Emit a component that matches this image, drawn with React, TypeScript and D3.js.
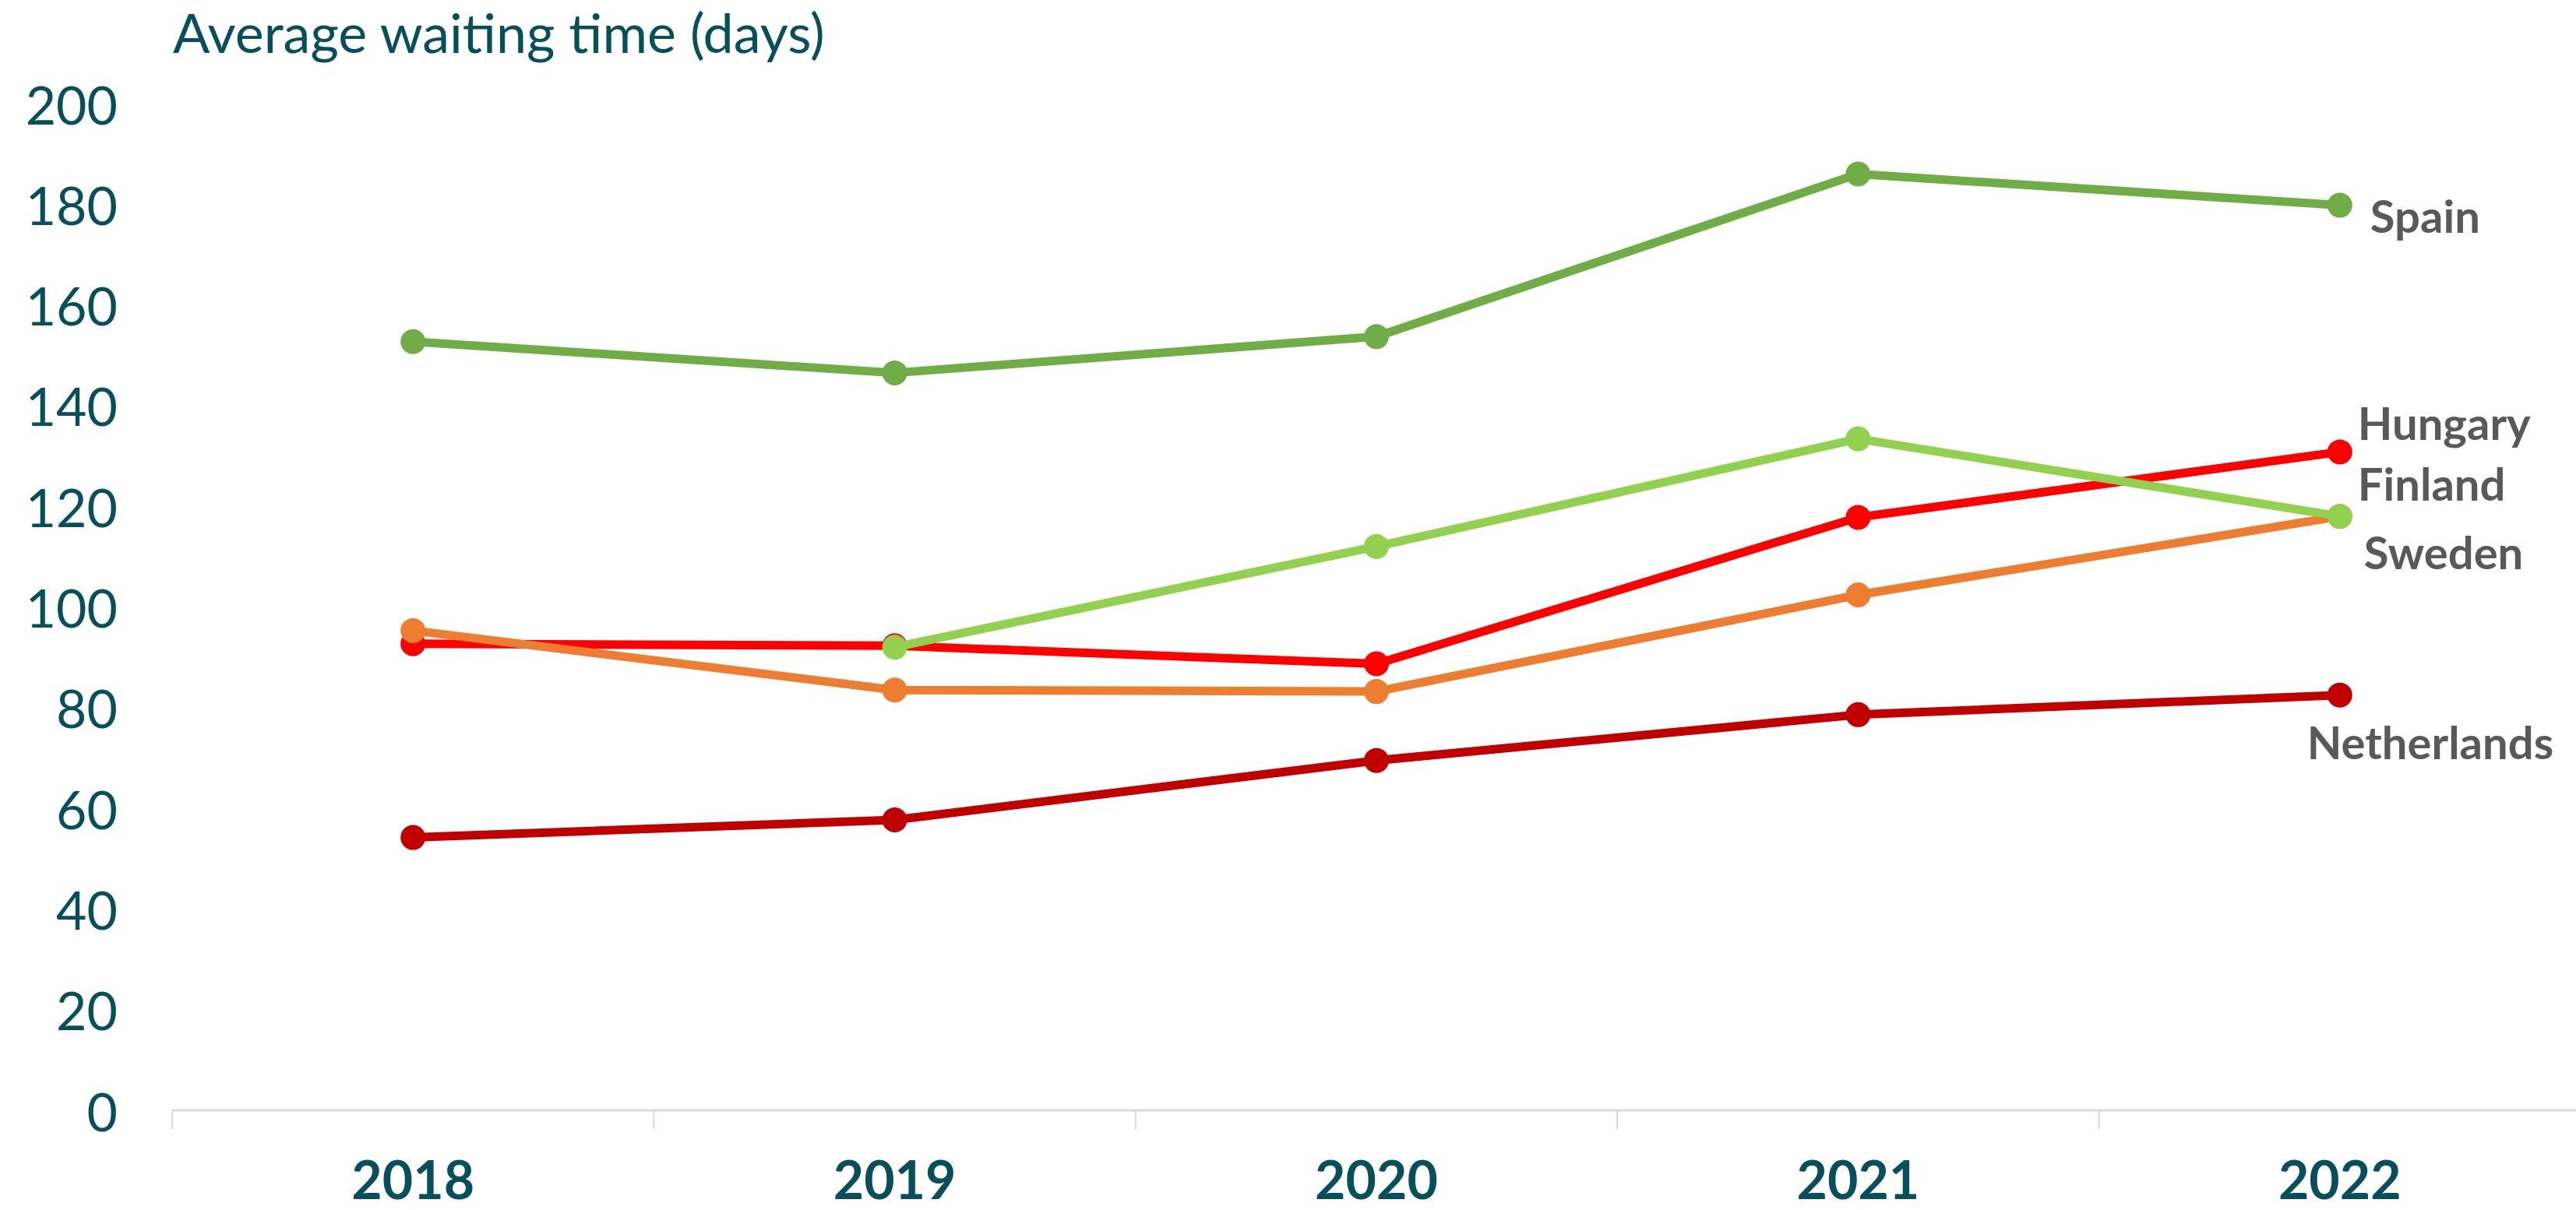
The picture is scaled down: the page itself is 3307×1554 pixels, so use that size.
import React from "react";
import * as d3 from "d3";

const years = ["2018", "2019", "2020", "2021", "2022"];
const yTicks = [0, 20, 40, 60, 80, 100, 120, 140, 160, 180, 200];

const spain = [152.7, 146.5, 153.7, 186.0, 179.8];
const finland: (number | null)[] = [null, 92.0, 112.0, 133.4, 118.0];
const hungary = [92.7, 92.3, 88.7, 117.8, 130.8];
const sweden = [95.3, 83.5, 83.2, 102.4, 118.0];
const netherlands = [54.2, 57.7, 69.5, 78.6, 82.5];

const seriesNames = ["Netherlands", "Hungary", "Sweden", "Finland", "Spain"];
const seriesValues = [netherlands, hungary, sweden, finland, spain];
const seriesColors = ["#C00000", "#FF0000", "#ED7D31", "#92D050", "#70AD47"];
// label offsets relative to last point (dx, dy to baseline)
const labelOffsets: [number, number][] = [
  [-42, 82],
  [23, -15],
  [31, 68],
  [23, -20],
  [39, 35],
];

const W = 3307;
const H = 1554;
const TEAL = "#064F5B";
const FONT = "Lato, 'Open Sans', sans-serif";

export default function App() {
  const x = d3.scaleBand<string>().domain(years).range([221, 3313]).padding(0);
  const y = d3.scaleLinear().domain([0, 200]).range([1426, 133]);
  const cx = (yr: string) => (x(yr) as number) + x.bandwidth() / 2;

  const line = d3
    .line<number | null>()
    .defined((d) => d !== null)
    .x((_, i) => cx(years[i]))
    .y((d) => y(d as number));

  const boundaries = years.map((yr) => x(yr) as number).concat([x.range()[1]]);

  return (
    <svg
      width={W}
      height={H}
      style={{ position: "absolute", left: 0, top: 0, background: "#fff" }}
    >
      <rect x={0} y={0} width={W} height={H} fill="#fff" />
      <text x={222} y={68} fontFamily={FONT} fontSize={70} fill={TEAL}>
        Average waiting time (days)
      </text>
      {yTicks.map((t) => (
        <text
          key={t}
          x={151}
          y={y(t)}
          textAnchor="end"
          dominantBaseline="central"
          fontFamily={FONT}
          fontSize={68}
          fill={TEAL}
        >
          {t}
        </text>
      ))}
      <line x1={221} x2={W} y1={1426} y2={1426} stroke="#D9D9D9" strokeWidth={3} />
      {boundaries.map((b, i) => (
        <line key={i} x1={b} x2={b} y1={1426} y2={1450} stroke="#D9D9D9" strokeWidth={2} />
      ))}
      {years.map((yr) => (
        <text
          key={yr}
          x={cx(yr)}
          y={1540}
          textAnchor="middle"
          fontFamily={FONT}
          fontWeight="bold"
          fontSize={68}
          fill={TEAL}
        >
          {yr}
        </text>
      ))}
      {seriesValues.map((vals, si) => (
        <g key={seriesNames[si]}>
          <path
            d={line(vals) || ""}
            fill="none"
            stroke={seriesColors[si]}
            strokeWidth={11}
            strokeLinejoin="round"
          />
          {vals.map((v, i) =>
            v === null ? null : (
              <circle key={i} cx={cx(years[i])} cy={y(v)} r={16} fill={seriesColors[si]} />
            )
          )}
        </g>
      ))}
      {seriesValues.map((vals, si) => {
        const last = vals[vals.length - 1] as number;
        const [dx, dy] = labelOffsets[si];
        return (
          <text
            key={seriesNames[si]}
            x={cx(years[years.length - 1]) + dx}
            y={y(last) + dy}
            fontFamily={FONT}
            fontWeight="bold"
            fontSize={58}
            fill="#595959"
          >
            {seriesNames[si]}
          </text>
        );
      })}
    </svg>
  );
}
